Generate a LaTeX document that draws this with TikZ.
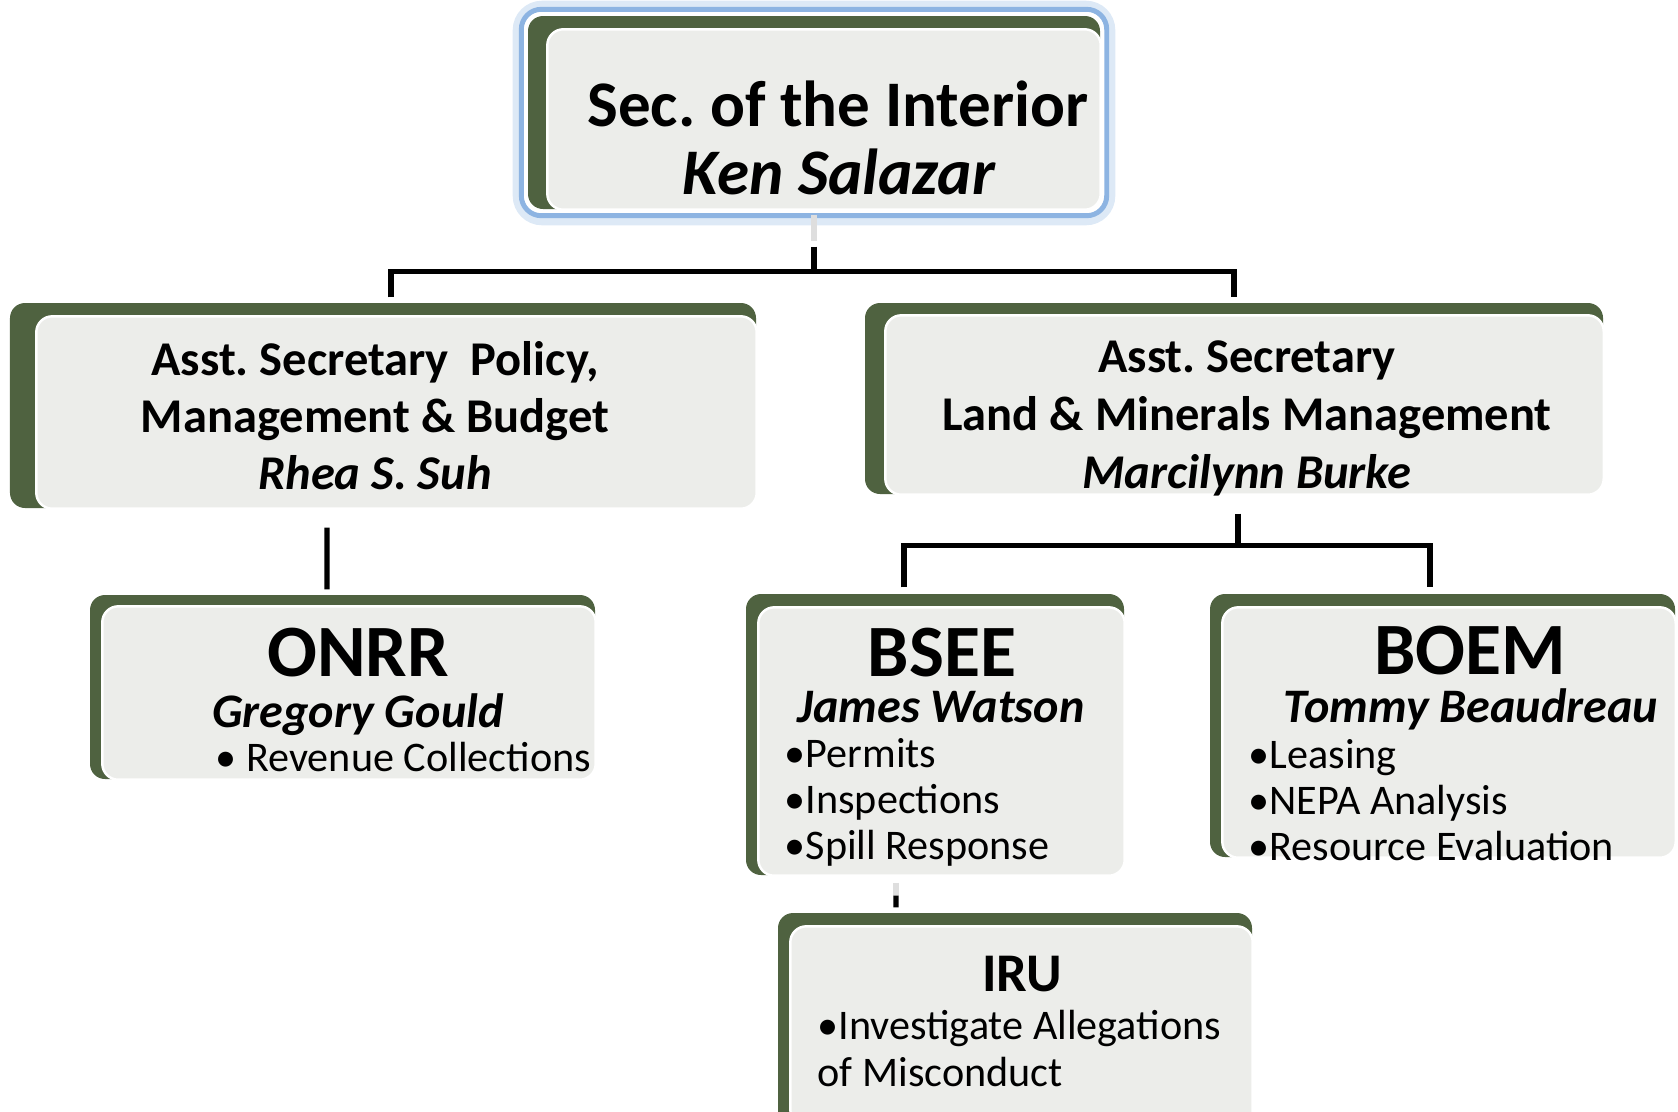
\documentclass[tikz,border=0pt]{standalone}
\usepackage{fontspec}
\setmainfont{Carlito}
\usepackage{xcolor}
\usepackage{tikz}
\usetikzlibrary{calc}

\definecolor{boxgreen}{RGB}{79,98,64}
\definecolor{panelgray}{RGB}{236,237,234}
\definecolor{glowblue}{RGB}{141,180,226}
\definecolor{stubgray}{RGB}{222,222,222}

\begin{document}
\frenchspacing
\begin{tikzpicture}[
    unitbox/.style={rectangle, fill=boxgreen, rounded corners=0.15cm, inner sep=0pt},
    link/.style={line width=1.45pt, black},
    stub/.style={line width=1.45pt, stubgray},
    chief/.style={font=\bfseries\fontsize{18.5}{20}\selectfont, inner sep=0pt, anchor=base},
    asst/.style={font=\bfseries\fontsize{13.8}{16}\selectfont, inner sep=0pt, anchor=base},
    bighead/.style={font=\bfseries\fontsize{21}{24}\selectfont, inner sep=0pt, anchor=base},
    who/.style={font=\bfseries\itshape\fontsize{13.7}{16}\selectfont, inner sep=0pt, anchor=base},
    item/.style={font=\fontsize{12}{14}\selectfont, inner sep=0pt, anchor=base west}]

    \useasboundingbox (0, 0) rectangle (16.78, -11.11);

    % glow round the top box
    \draw[glowblue!30, line width=3pt, rounded corners=0.24cm]
      (5.18, -0.06) rectangle (11.1, -2.2);

    % green backing boxes
    \node[unitbox, minimum width=5.72cm, minimum height=1.93cm] (sec) at (8.14, -1.125) {};
    \node[unitbox, minimum width=7.46cm, minimum height=2.05cm] (pmb) at (3.83, -4.055) {};
    \node[unitbox, minimum width=7.38cm, minimum height=1.91cm] (lmm) at (12.34, -3.985) {};
    \node[unitbox, minimum width=5.05cm, minimum height=1.84cm] (onrr) at (3.425, -6.87) {};
    \node[unitbox, minimum width=3.78cm, minimum height=2.81cm] (bsee) at (9.35, -7.345) {};
    \node[unitbox, minimum width=4.65cm, minimum height=2.63cm] (boem) at (14.425, -7.255) {};
    \node[unitbox, minimum width=4.74cm, minimum height=2.12cm] (iru) at (10.15, -10.19) {};

    % light panels, open to the green on the left and on top
    \foreach \n/\dx/\dy in {sec/0.20/0.14, pmb/0.27/0.14, lmm/0.21/0.13, onrr/0.13/0.12,
                            bsee/0.13/0.14, boem/0.13/0.14, iru/0.13/0.14} {
      \path[fill=panelgray, draw=white, line width=0.7pt, rounded corners=0.16cm]
        ($(\n.north west) + (\dx, -\dy)$) rectangle (\n.south east);
    }

    \draw[glowblue, line width=1.4pt, rounded corners=0.2cm]
      ($(sec.north west) + (-0.06, 0.06)$) rectangle ($(sec.south east) + (0.06, -0.06)$);

    % connectors
    \draw[stub] ($(sec.south) + (0, -0.05)$) -- ++(0, -0.26);
    \draw[link] ($(sec.south) + (0, -0.37)$) -- ++(0, -0.25) coordinate (bus1);
    \draw[link] ($(pmb.north) + (0.08, 0.05)$) |- (bus1) -| ($(lmm.north) + (0, 0.05)$);
    \draw[link] ($(pmb.south) + (-0.56, -0.19)$) -- ($(onrr.north) + (-0.155, 0.05)$);
    \draw[link] ($(lmm.south) + (0.04, -0.19)$) -- ++(0, -0.32) coordinate (bus2);
    \draw[link] ($(bsee.north) + (-0.31, 0.06)$) |- (bus2) -| ($(boem.north) + (-0.125, 0.06)$);
    \draw[stub] ($(bsee.south) + (-0.39, -0.07)$) -- ++(0, -0.13);
    \draw[link] ($(bsee.south) + (-0.39, -0.20)$) -- ($(iru.north) + (-1.19, 0.05)$);

    % texts
    \node[chief] (sec-t1) at (8.38, -1.26) {Sec. of the Interior};
    \node[chief] (sec-t2) at (8.39, -1.94) {\itshape Ken Salazar};

    \foreach \t [count=\i from 0] in {{Asst. Secretary\ \ Policy,}, Management \& Budget, \textit{Rhea S. Suh}} {
      \node[asst] (pmb-t\i) at (3.75, {-3.75 - 0.57*\i}) {\t};
    }
    \foreach \t [count=\i from 0] in {Asst. Secretary, Land \& Minerals Management, \textit{Marcilynn Burke}} {
      \node[asst] (lmm-t\i) at (12.47, {-3.72 - 0.58*\i}) {\t};
    }

    \node[bighead] (onrr-t) at (3.58, -6.76) {ONRR};
    \node[who] (onrr-w) at (3.58, -7.27) {Gregory Gould};
    \node[item] (onrr-i0) at (2.15, -7.71) {• Revenue Collections};

    \node[bighead] (bsee-t) at (9.42, -6.76) {BSEE};
    \node[who] (bsee-w) at (9.41, -7.22) {James Watson};
    \foreach \t [count=\i from 0] in {Permits, Inspections, Spill Response} {
      \node[item] (bsee-i\i) at (7.84, {-7.67 - 0.463*\i}) {•\t};
    }

    \node[bighead] (boem-t) at (14.70, -6.74) {BOEM};
    \node[who] (boem-w) at (14.71, -7.22) {Tommy Beaudreau};
    \foreach \t [count=\i from 0] in {Leasing, NEPA Analysis, Resource Evaluation} {
      \node[item] (boem-i\i) at (12.48, {-7.68 - 0.46*\i}) {•\t};
    }

    \node[bighead, font=\bfseries\fontsize{15.5}{18}\selectfont] (iru-t) at (10.22, -9.91) {IRU};
    \node[item] (iru-i0) at (8.17, -10.39) {•Investigate Allegations};
    \node[item] (iru-i1) at (8.17, -10.86) {of Misconduct};

  \end{tikzpicture}
\end{document}
